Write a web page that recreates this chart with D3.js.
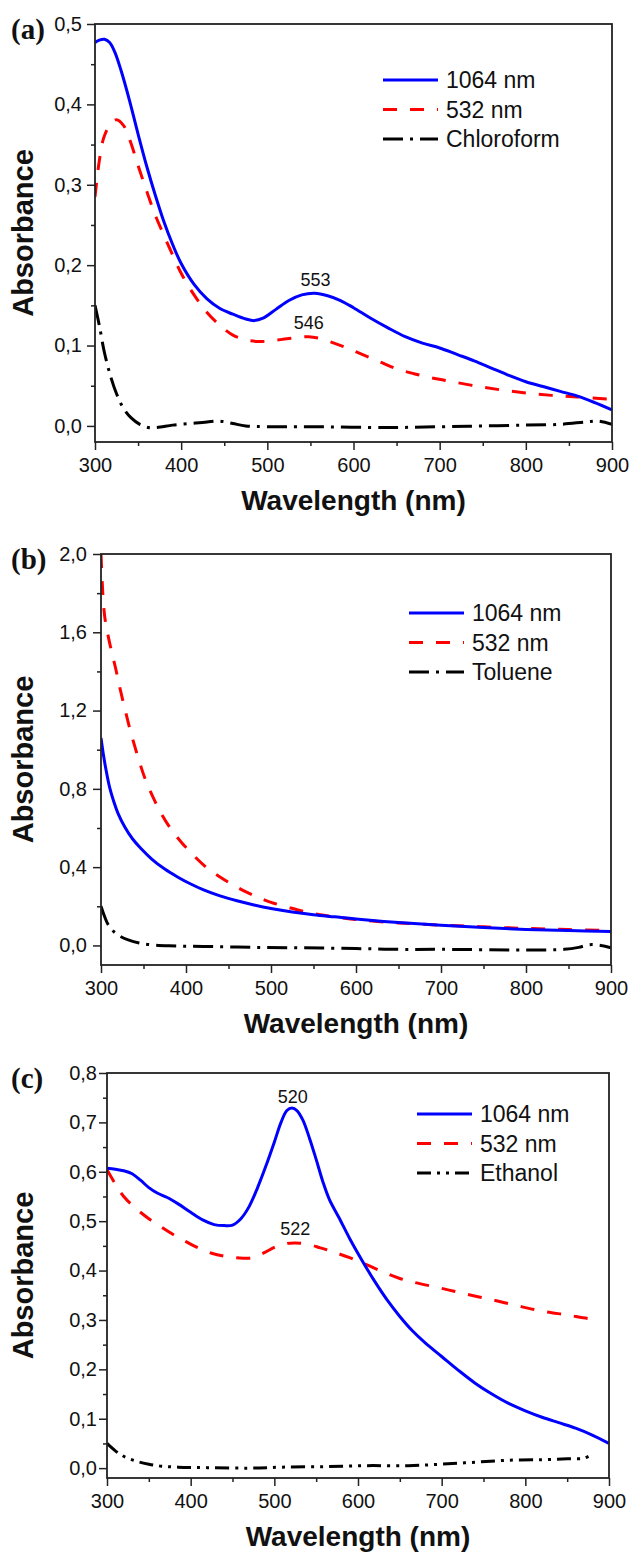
<!DOCTYPE html>
<html>
<head>
<meta charset="utf-8">
<script src="https://cdn.jsdelivr.net/npm/d3@7"></script>
<style>
  body { margin: 0; background: #fff; }
  svg { display: block; }
</style>
</head>
<body>
<svg id="chart"></svg>
<script>
// ---- data ([wavelength nm, absorbance]) ----
const wlTicks = [300, 400, 500, 600, 700, 800, 900];
const seriesNames = ["1064 nm", "532 nm"];
const solvents = ["Chloroform", "Toluene", "Ethanol"];
const panelTags = ["(a)", "(b)", "(c)"];

const a1064 = [[300,0.477],[305,0.480],[311,0.481],[317,0.477],[323,0.465],[330,0.443],[340,0.405],[350,0.363],[360,0.323],[370,0.287],[380,0.254],[390,0.226],[400,0.202],[415,0.176],[430,0.158],[445,0.146],[460,0.139],[475,0.133],[485,0.131],[495,0.134],[510,0.145],[525,0.156],[540,0.163],[555,0.165],[570,0.162],[585,0.156],[600,0.147],[620,0.134],[640,0.122],[660,0.111],[680,0.103],[700,0.097],[720,0.089],[740,0.081],[760,0.072],[780,0.063],[800,0.055],[820,0.049],[840,0.043],[860,0.037],[880,0.029],[900,0.020]];
const a532 = [[300,0.285],[305,0.330],[310,0.358],[317,0.374],[325,0.381],[333,0.374],[340,0.357],[350,0.324],[360,0.292],[370,0.262],[380,0.237],[390,0.213],[400,0.190],[415,0.163],[430,0.141],[445,0.125],[460,0.113],[475,0.107],[490,0.105],[505,0.106],[520,0.108],[535,0.110],[548,0.111],[560,0.109],[575,0.104],[590,0.098],[610,0.089],[630,0.080],[650,0.071],[670,0.065],[690,0.060],[710,0.056],[740,0.050],[770,0.045],[800,0.041],[830,0.038],[860,0.036],[900,0.033]];
const aSolvent = [[300,0.150],[305,0.125],[311,0.091],[318,0.062],[325,0.040],[333,0.022],[342,0.010],[352,0.002],[362,-0.002],[372,-0.002],[390,0.001],[410,0.003],[430,0.005],[445,0.006],[460,0.003],[475,0.000],[500,-0.001],[550,-0.001],[640,-0.002],[700,-0.001],[750,0.000],[800,0.001],[840,0.002],[870,0.005],[885,0.006],[900,0.002]];

const b1064 = [[300,1.06],[303,0.97],[306,0.895],[310,0.81],[315,0.735],[320,0.675],[328,0.605],[337,0.545],[347,0.495],[360,0.44],[375,0.39],[390,0.35],[405,0.315],[420,0.285],[440,0.253],[460,0.228],[480,0.207],[500,0.189],[525,0.171],[550,0.157],[575,0.146],[600,0.135],[650,0.117],[700,0.103],[750,0.091],[800,0.082],[850,0.076],[900,0.071]];
const b532 = [[300,2.0],[301.5,1.85],[303,1.74],[305,1.66],[308,1.59],[312,1.51],[317,1.42],[322,1.32],[328,1.21],[335,1.09],[343,0.97],[352,0.85],[362,0.75],[372,0.665],[383,0.59],[395,0.525],[410,0.455],[425,0.395],[440,0.35],[455,0.31],[470,0.275],[485,0.245],[500,0.22],[520,0.195],[540,0.172],[560,0.155],[580,0.143],[600,0.132],[650,0.115],[700,0.104],[750,0.095],[800,0.087],[850,0.081],[900,0.077]];
const bSolvent = [[300,0.20],[304,0.15],[308,0.11],[314,0.075],[322,0.048],[332,0.028],[345,0.012],[360,0.003],[380,-0.002],[420,-0.005],[480,-0.010],[540,-0.012],[600,-0.016],[650,-0.02],[700,-0.02],[800,-0.023],[845,-0.02],[862,-0.01],[875,0.004],[888,0.0],[900,-0.012]];

const c1064 = [[300,0.607],[310,0.605],[320,0.602],[330,0.596],[340,0.583],[350,0.568],[360,0.557],[372,0.548],[385,0.535],[400,0.518],[415,0.502],[428,0.493],[440,0.491],[450,0.492],[460,0.505],[470,0.530],[480,0.568],[490,0.612],[500,0.660],[508,0.700],[515,0.724],[521,0.729],[527,0.724],[534,0.705],[542,0.668],[550,0.625],[558,0.580],[566,0.543],[577,0.508],[590,0.465],[605,0.420],[620,0.378],[635,0.340],[650,0.307],[665,0.278],[680,0.254],[700,0.226],[720,0.198],[740,0.172],[760,0.150],[780,0.131],[800,0.116],[820,0.103],[840,0.092],[860,0.081],[880,0.067],[900,0.050]];
const c532 = [[300,0.604],[310,0.575],[320,0.550],[335,0.525],[350,0.505],[365,0.488],[380,0.472],[395,0.458],[410,0.445],[425,0.435],[440,0.429],[455,0.426],[470,0.425],[480,0.430],[490,0.438],[500,0.447],[512,0.454],[524,0.456],[538,0.454],[555,0.446],[570,0.438],[590,0.426],[610,0.412],[630,0.397],[650,0.384],[670,0.375],[700,0.364],[730,0.352],[760,0.341],[790,0.329],[820,0.318],[850,0.310],[875,0.303],[889,0.300]];
const cSolvent = [[300,0.05],[310,0.035],[320,0.024],[335,0.014],[350,0.008],[365,0.004],[385,0.002],[420,0.001],[470,0.000],[510,0.002],[560,0.003],[610,0.005],[660,0.005],[700,0.008],[740,0.012],[780,0.016],[820,0.017],[850,0.019],[870,0.020],[880,0.028]];

// y axis ranges and tick steps per panel
const yDomains = [[-0.02, 0.5], [-0.1, 2.0], [-0.02, 0.8]];
const yMajor = [0.1, 0.4, 0.1];

// peak labels: [text, wavelength, absorbance]
const aPeaks = [["553", 556, 0.174], ["546", 548, 0.121]];
const cPeaks = [["520", 522, 0.740], ["522", 525, 0.471]];

const W = 630, H = 1556;
const svg = d3.select("#chart").attr("width", W).attr("height", H);

const colors = ["#0000ff", "#ff0000", "#000"];
const solventDash = ["20 7 3 7", "20 7 3 7", "14 6 3 6 3 6"];

const panels = [
  { series: [a1064, a532, aSolvent], peaks: aPeaks,
    box: { l: 95, r: 612, t: 24, b: 442 }, leg: { x: 383, y: 80 }, ypad: 5 },
  { series: [b1064, b532, bSolvent], peaks: [],
    box: { l: 101, r: 611, t: 554, b: 965 }, leg: { x: 409, y: 613 }, ypad: 6 },
  { series: [c1064, c532, cSolvent], peaks: cPeaks,
    box: { l: 107, r: 609, t: 1073, b: 1478 }, leg: { x: 417, y: 1114 }, ypad: 2 }
];

const fmt = v => d3.format(".1f")(v).replace(".", ",");
const sans = "'Liberation Sans', Arial, sans-serif";

panels.forEach((p, i) => {
  const { l, r, t, b } = p.box;
  const x = d3.scaleLinear().domain([300, 900]).range([l, r]);
  const y = d3.scaleLinear().domain(yDomains[i]).range([b, t]);
  const g = svg.append("g");

  const step = yMajor[i];
  const top = yDomains[i][1];
  const yTicks = d3.range(0, top + step / 2, step);
  const yMinor = d3.range(step / 2, top, step).filter(v => v < top);
  const xMinor = d3.range(350, 900, 100);

  // minor ticks
  g.append("g").attr("transform", `translate(0,${b})`)
    .call(d3.axisBottom(x).tickValues(xMinor).tickSize(4).tickFormat(""))
    .call(s => s.select(".domain").remove());
  g.append("g").attr("transform", `translate(${l},0)`)
    .call(d3.axisLeft(y).tickValues(yMinor).tickSize(4).tickFormat(""))
    .call(s => s.select(".domain").remove());

  // major axes
  const xa = g.append("g").attr("transform", `translate(0,${b})`)
    .call(d3.axisBottom(x).tickValues(wlTicks).tickSize(8).tickPadding(8).tickFormat(d3.format("d")));
  const ya = g.append("g").attr("transform", `translate(${l},0)`)
    .call(d3.axisLeft(y).tickValues(yTicks).tickSize(8).tickPadding(p.ypad).tickFormat(fmt));
  [xa, ya].forEach(a => {
    a.select(".domain").remove();
    a.selectAll("text").attr("font-family", sans).attr("font-size", 20).attr("fill", "#111");
  });
  g.selectAll(".tick line").attr("stroke", "#222").attr("stroke-width", 1.5);

  // curves
  const clipId = "clip" + i;
  svg.append("clipPath").attr("id", clipId).append("rect")
    .attr("x", l).attr("y", t - 2).attr("width", r - l).attr("height", b - t + 2);
  const line = d3.line().x(d => x(d[0])).y(d => y(d[1])).curve(d3.curveCatmullRom.alpha(0.5));
  const dashes = [null, "14 13", solventDash[i]];
  const cg = g.append("g").attr("clip-path", `url(#${clipId})`);
  [2, 1, 0].forEach(k => {
    cg.append("path").datum(p.series[k])
      .attr("d", line)
      .attr("fill", "none")
      .attr("stroke", colors[k])
      .attr("stroke-width", 3)
      .attr("stroke-dasharray", dashes[k]);
  });

  // frame
  g.append("rect").attr("x", l).attr("y", t).attr("width", r - l).attr("height", b - t)
    .attr("fill", "none").attr("stroke", "#222").attr("stroke-width", 1.8);

  // peak labels
  p.peaks.forEach(([txt, wl, v]) => {
    g.append("text").attr("x", x(wl)).attr("y", y(v))
      .attr("text-anchor", "middle").attr("font-family", sans).attr("font-size", 18)
      .attr("fill", "#111").text(txt);
  });

  // legend
  const legNames = [seriesNames[0], seriesNames[1], solvents[i]];
  legNames.forEach((name, k) => {
    const ly = p.leg.y + k * 29.5;
    g.append("line").attr("x1", p.leg.x).attr("x2", p.leg.x + 55)
      .attr("y1", ly).attr("y2", ly)
      .attr("stroke", colors[k]).attr("stroke-width", 3)
      .attr("stroke-dasharray", dashes[k]);
    g.append("text").attr("x", p.leg.x + 63).attr("y", ly + 8)
      .attr("font-family", sans).attr("font-size", 23).attr("fill", "#111").text(name);
  });

  // axis titles
  g.append("text").attr("x", (l + r) / 2).attr("y", b + 68)
    .attr("text-anchor", "middle").attr("font-family", sans).attr("font-weight", "bold")
    .attr("font-size", 28).attr("fill", "#111").text("Wavelength (nm)");
  g.append("text").attr("transform", `translate(33,${(t + b) / 2}) rotate(-90)`)
    .attr("text-anchor", "middle").attr("font-family", sans).attr("font-weight", "bold")
    .attr("font-size", 29).attr("fill", "#111").text("Absorbance");

  // panel tag
  g.append("text").attr("x", 11).attr("y", t + 15)
    .attr("font-family", "'Liberation Serif', 'Times New Roman', serif").attr("font-weight", "bold")
    .attr("font-size", 29).attr("fill", "#111").text(panelTags[i]);
});
</script>
</body>
</html>
